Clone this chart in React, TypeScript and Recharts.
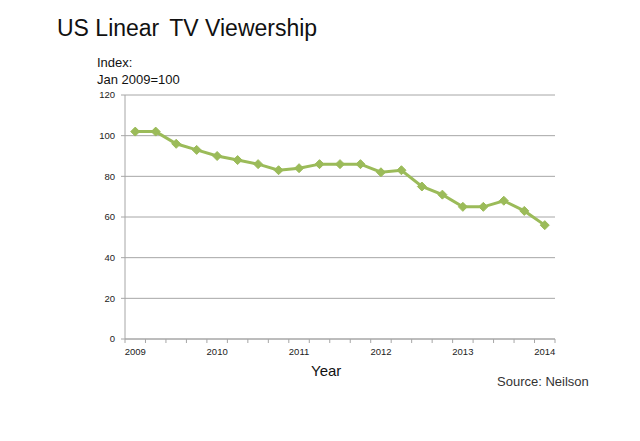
import React from 'react';
import { LineChart, Line, XAxis, YAxis, CartesianGrid } from 'recharts';

// quarterly index, Jan 2009 = 100
const viewership = [102, 102, 96, 93, 90, 88, 86, 83, 84, 86, 86, 86, 82, 83, 75, 71, 65, 65, 68, 63, 56];
const yearLabels = ['2009', '2010', '2011', '2012', '2013', '2014'];
const yTicks = [0, 20, 40, 60, 80, 100, 120];

const data = viewership.map((v, i) => ({ x: i + 0.5, value: v }));
const xTicks = Array.from({ length: viewership.length + 1 }, (_, i) => i);

const FONT = '"Liberation Sans", Arial, sans-serif';
const GREEN = '#9bbb59';
const GRID = '#a6a6a6';
const HALF_BIN = 430 / viewership.length / 2;

const YearTick = (props: any) => {
  const { x, y, payload } = props;
  const v = payload.value as number;
  if (v % 4 !== 0) return null;
  const label = yearLabels[v / 4];
  if (!label) return null;
  return (
    <text x={x + HALF_BIN} y={y} dy={8} textAnchor="middle" fontSize={9.5} fill="#222" fontFamily={FONT}>
      {label}
    </text>
  );
};

const Diamond = (props: any) => {
  const { cx, cy } = props;
  if (cx == null || cy == null) return null;
  const r = 4.5;
  return (
    <polygon
      points={`${cx},${cy - r} ${cx + r},${cy} ${cx},${cy + r} ${cx - r},${cy}`}
      fill={GREEN}
      stroke={GREEN}
      strokeWidth={1}
    />
  );
};

export default function App() {
  return (
    <div style={{ position: 'absolute', left: 0, top: 0, width: 640, height: 441, background: '#fff', fontFamily: FONT }}>
      <div style={{ position: 'absolute', left: 57, top: 15, fontSize: 23, color: '#111', whiteSpace: 'nowrap' }}>
        <span>US Linear</span>
        <span style={{ marginLeft: 10 }}>TV Viewership</span>
      </div>
      <div style={{ position: 'absolute', left: 97, top: 54, fontSize: 13, lineHeight: '17px', color: '#111' }}>
        Index:
        <br />
        Jan 2009=100
      </div>
      <LineChart width={640} height={441} data={data} margin={{ top: 95, right: 85, bottom: 72, left: 0 }}>
        <CartesianGrid horizontal vertical={false} stroke={GRID} strokeWidth={1} />
        <XAxis
          dataKey="x"
          type="number"
          domain={[0, viewership.length]}
          ticks={xTicks}
          interval={0}
          height={30}
          tick={<YearTick />}
          tickSize={4}
          tickMargin={4}
          axisLine={{ stroke: GRID }}
          tickLine={{ stroke: GRID }}
        />
        <YAxis
          type="number"
          domain={[0, 120]}
          ticks={yTicks}
          width={125}
          tickSize={4}
          tickMargin={6}
          axisLine={{ stroke: GRID }}
          tickLine={{ stroke: GRID }}
          tick={{ fontSize: 9.5, fill: '#222', fontFamily: FONT }}
        />
        <Line
          type="linear"
          dataKey="value"
          stroke={GREEN}
          strokeWidth={3}
          dot={<Diamond />}
          activeDot={false}
          isAnimationActive={false}
        />
      </LineChart>
      <div style={{ position: 'absolute', left: 311, top: 362, fontSize: 15, color: '#111' }}>Year</div>
      <div style={{ position: 'absolute', left: 497, top: 374, fontSize: 13, color: '#333' }}>Source: Neilson</div>
    </div>
  );
}
